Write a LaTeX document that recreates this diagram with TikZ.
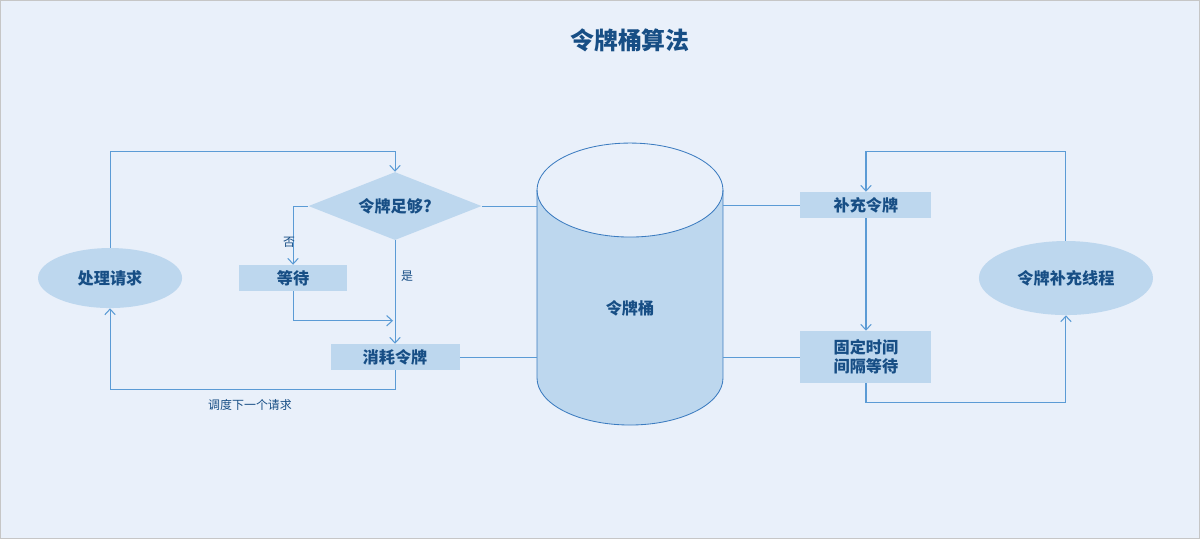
\documentclass[tikz,border=0pt]{standalone}
\usepackage{fontspec}
\setmainfont{Noto Sans CJK SC}
\usetikzlibrary{shapes.geometric,arrows.meta,positioning,calc}
\definecolor{bgblue}{HTML}{E9F0FA}
\definecolor{boxblue}{HTML}{BDD7EE}
\definecolor{lineblue}{HTML}{5B9BD5}
\definecolor{edgeblue}{HTML}{3C7CC0}
\definecolor{textblue}{HTML}{174E85}

\begin{document}
\begin{tikzpicture}[x=0.025cm, y=-0.025cm,
		box/.style={fill=boxblue, inner sep=0pt, text=textblue, font=\fontsize{11.5}{13.5}\selectfont\bfseries, align=center},
		oval/.style={ellipse, fill=boxblue, inner sep=0pt, text=textblue, font=\fontsize{11.5}{13.5}\selectfont\bfseries},
		link/.style={lineblue, line width=0.75pt},
		arr/.style={-{Straight Barb[length=1.4mm, width=2.6mm, line width=0.75pt]}},
		small/.style={text=textblue, font=\fontsize{8.5}{10}\selectfont}]
			% background and frame
			\fill[bgblue] (0,0) rectangle (1200,539);
			\draw[gray!45, line width=0.8pt] (0.5,0.5) rectangle (1199.5,538.5);
			\useasboundingbox (0,0) rectangle (1200,539);
			\node[text=textblue, font=\fontsize{17}{20}\selectfont\bfseries] (title) at (630,40) {令牌桶算法};
			% left part
			\node[oval, minimum width=3.6cm, minimum height=1.5cm] (req) at (110,278) {处理请求};
			\node[diamond, aspect=2.5, fill=boxblue, inner sep=0pt, minimum width=4.325cm, minimum height=1.7cm, text=textblue, font=\fontsize{11.5}{13.5}\selectfont\bfseries] (chk) at (395,206) {令牌足够?};
			\node[box, minimum width=2.7cm, minimum height=0.65cm] (wait) at (293,278) {等待};
			\node[box, minimum width=3.225cm, minimum height=0.65cm] (use) at (395,357) {消耗令牌};
			% bucket
			\fill[boxblue] (537,190) -- (537,378) arc (180:0:93 and 47) -- (723,190) arc (0:180:93 and 47) -- cycle;
			\draw[edgeblue, line width=0.6pt] (537,190) -- (537,378) arc (180:0:93 and 47) -- (723,190);
			\draw[edgeblue, line width=0.6pt] (630,190) ellipse (93 and 47);
			\node[text=textblue, font=\fontsize{11.5}{13.5}\selectfont\bfseries] (bucket) at (630,308) {令牌桶};
			\coordinate (bl1) at (537,206);
			\coordinate (bl2) at (537,357);
			\coordinate (br1) at (723,205);
			\coordinate (br2) at (723,357);
			% right part
			\node[box, minimum width=3.275cm, minimum height=0.65cm] (refill) at (866,205) {补充令牌};
			\node[box, minimum width=3.275cm, minimum height=1.3cm] (intv) at (866,357) {固定时间\\间隔等待};
			\node[oval, minimum width=4.35cm, minimum height=1.85cm] (thr) at (1066,278) {令牌补充线程};
			% connectors left
			\draw[link, arr] (req.north) -- ++(0,-96) -| (chk.north);
			\draw[link, arr] (chk.west) -| (wait.north);
			\draw[link, arr] (chk.south) -- (use.north);
			\draw[link, arr] (wait.south) |- ($(use.north)+(-2,-23)$);
			\draw[link, arr] (use.south) -- ++(0,19) -| (req.south);
			\node[small] (no) at (289,242) {否};
			\node[small] (yes) at (407,276) {是};
			\node[small] (next) at (250,405) {调度下一个请求};
			\draw[link] (chk.east) -- (bl1);
			\draw[link] (use.east) -- (bl2);
			% connectors right
			\draw[link] (br1) -- (refill.west);
			\draw[link] (br2) -- (intv.west);
			\draw[link, arr] (refill.south) -- (intv.north);
			\draw[link, arr] (intv.south) -- ++(0,19) -| (thr.south);
			\draw[link, arr] (thr.north) -- ++(0,-89) -| (refill.north);
		\end{tikzpicture}
\end{document}
